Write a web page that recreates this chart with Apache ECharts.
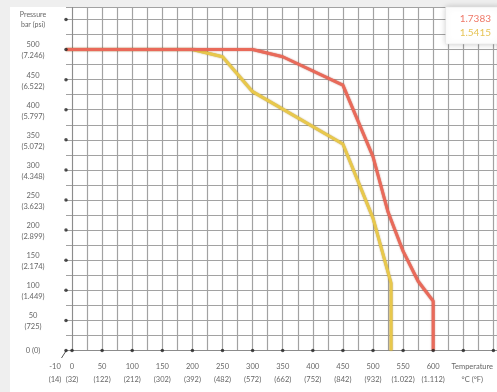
<!DOCTYPE html>
<html>
<head>
<meta charset="utf-8">
<script src="https://cdn.jsdelivr.net/npm/echarts@6/dist/echarts.min.js"></script>
<style>
  html, body { margin: 0; padding: 0; background: #efefef; }
  #panel { position: absolute; left: 10px; top: 7px; width: 487px; height: 385px; background: #ffffff; }
  #chart { position: absolute; left: 0; top: 0; width: 497px; height: 392px; }
</style>
</head>
<body>
<div id="panel"></div>
<div id="chart"></div>
<script>
// ---- data ----
const seriesNames = ['1.7383', '1.5415'];
const redTemp = [-10, 300, 350, 450, 500, 525, 550, 575, 600, 600];
const redPres = [500, 500, 488, 441, 322, 230, 165, 115, 82, 0];
const yellowTemp = [-10, 200, 250, 300, 450, 500, 530, 530];
const yellowPres = [500, 500, 488, 430, 343, 220, 112, 0];

const xTickC = [-10, 0, 50, 100, 150, 200, 250, 300, 350, 400, 450, 500, 550, 600];
const xTickF = ['14', '32', '122', '212', '302', '392', '482', '572', '662', '752', '842', '932', '1.022', '1.112'];
const xTitle = ['Temperature', '°C (°F)'];
const yTickBar = [0, 50, 100, 150, 200, 250, 300, 350, 400, 450, 500];
const yTickPsi = ['0', '725', '1.449', '2.174', '2.899', '3.623', '4.348', '5.072', '5.797', '6.522', '7.246'];
const yTitle = ['Pressure', 'bar (psi)'];
const xDots = [0, 50, 100, 150, 200, 250, 300, 350, 400, 450, 500, 550, 600, 650, 700];
const yDots = [0, 50, 100, 150, 200, 250, 300, 350, 400, 450, 500, 550];

const RED = '#e96a5a';
const YELLOW = '#e8c84c';
const LABEL = '#666666';
const FONT = 'Lato';
const GRIDC = '#a2a2a2';

function zip(a, b) { return a.map((v, i) => [v, b[i]]); }

// layout: x from -10 at px 66 to 706 at px 497
const X_MIN = -10, X_MAX = 706, LEFT = 66, RIGHT_EDGE = 497;
const pxPerUnit = (RIGHT_EDGE - LEFT) / (X_MAX - X_MIN);
const left1 = LEFT + (0 - X_MIN) * pxPerUnit;

const chart = echarts.init(document.getElementById('chart'), null, { renderer: 'canvas' });

const richX = {
  a: { color: LABEL, fontSize: 7.5, lineHeight: 13, fontFamily: FONT },
  m: { color: LABEL, fontSize: 7.5, lineHeight: 13, fontFamily: FONT, padding: [0, 22, 0, 0] },
  t: { color: LABEL, fontSize: 7.5, lineHeight: 13, fontFamily: FONT, padding: [0, 0, 0, 18] }
};

const option = {
  backgroundColor: 'transparent',
  animation: false,
  textStyle: { fontFamily: FONT },
  grid: [
    { left: LEFT, right: 0, top: 7.4, bottom: 41.5, containLabel: false },
    { left: left1, right: 0, top: 7.4, bottom: 41.5, containLabel: false }
  ],
  legend: {
    orient: 'vertical',
    right: -4,
    top: 7,
    padding: [7, 10, 6, 8],
    itemGap: 4,
    itemWidth: 0,
    itemHeight: 0,
    backgroundColor: '#ffffff',
    shadowBlur: 6,
    shadowColor: 'rgba(0,0,0,0.22)',
    borderColor: '#e2e2e2',
    borderWidth: 0.5,
    selectedMode: false,
    data: [
      { name: seriesNames[0], textStyle: { color: '#ef7868', fontSize: 10, fontFamily: FONT } },
      { name: seriesNames[1], textStyle: { color: '#e6c456', fontSize: 10, fontFamily: FONT } }
    ]
  },
  xAxis: [
    {
      gridIndex: 0,
      type: 'value',
      min: X_MIN,
      max: X_MAX,
      axisLine: { show: true, lineStyle: { color: '#8c8c8c', width: 1 } },
      axisTick: { show: false },
      splitLine: { show: false },
      axisLabel: {
        interval: 0,
        margin: 10,
        showMinLabel: true,
        showMaxLabel: false,
        color: LABEL,
        fontSize: 7.5,
        formatter: function (v) {
          if (v !== X_MIN) return '';
          const i = xTickC.indexOf(v);
          return '{m|' + xTickC[i] + '}\n{m|(' + xTickF[i] + ')}';
        },
        rich: richX
      }
    },
    {
      gridIndex: 1,
      type: 'value',
      min: 0,
      max: X_MAX,
      interval: 25,
      axisLine: { show: false },
      axisTick: { show: false },
      splitLine: { show: true, lineStyle: { color: GRIDC, width: 1.2 } },
      axisLabel: {
        interval: 0,
        margin: 10,
        showMinLabel: true,
        showMaxLabel: false,
        color: LABEL,
        fontSize: 7.5,
        formatter: function (v) {
          if (v === 650) return '{t|' + xTitle[0] + '}\n{t|' + xTitle[1] + '}';
          const i = xTickC.indexOf(v);
          if (i < 0) return '';
          return '{a|' + xTickC[i] + '}\n{a|(' + xTickF[i] + ')}';
        },
        rich: richX
      }
    }
  ],
  yAxis: [
    {
      gridIndex: 0,
      type: 'value',
      min: 0,
      max: 570,
      interval: 25,
      axisLine: { show: true, lineStyle: { color: '#8c8c8c', width: 1 } },
      axisTick: { show: false },
      splitLine: { show: true, lineStyle: { color: GRIDC, width: 1.2 } },
      axisLabel: {
        interval: 0,
        margin: 33,
        align: 'center',
        showMaxLabel: false,
        color: LABEL,
        fontSize: 7.5,
        formatter: function (v) {
          if (v === 550) return '{p|' + yTitle[0] + '}\n{p|' + yTitle[1] + '}';
          const i = yTickBar.indexOf(v);
          if (i < 0) return '';
          if (v === 0) return '{a|' + yTickBar[i] + ' (' + yTickPsi[i] + ')}';
          return '{b|' + yTickBar[i] + '}\n{c|(' + yTickPsi[i] + ')}';
        },
        rich: {
          a: { color: LABEL, fontSize: 7.5, lineHeight: 10, fontFamily: FONT },
          b: { color: LABEL, fontSize: 7.5, lineHeight: 13, fontFamily: FONT, padding: [4, 0, 0, 0] },
          c: { color: LABEL, fontSize: 7.5, lineHeight: 13, fontFamily: FONT },
          p: { color: LABEL, fontSize: 7, lineHeight: 10, fontFamily: FONT }
        }
      }
    },
    {
      gridIndex: 1,
      type: 'value',
      min: 0,
      max: 570,
      show: false,
      splitLine: { show: false }
    }
  ],
  graphic: [
    {
      type: 'line',
      shape: { x1: 66, y1: 351, x2: 61.5, y2: 358 },
      style: { stroke: '#555', lineWidth: 1 },
      silent: true
    }
  ],
  series: [
    {
      name: seriesNames[1],
      type: 'line',
      xAxisIndex: 0, yAxisIndex: 0,
      data: zip(yellowTemp, yellowPres),
      symbol: 'none',
      z: 3,
      lineStyle: { color: YELLOW, width: 3, shadowColor: 'rgba(150,110,0,0.7)', shadowBlur: 1.5 },
      itemStyle: { color: YELLOW }
    },
    {
      name: seriesNames[0],
      type: 'line',
      xAxisIndex: 0, yAxisIndex: 0,
      data: zip(redTemp, redPres),
      symbol: 'none',
      z: 4,
      lineStyle: { color: RED, width: 3, shadowColor: 'rgba(160,40,20,0.7)', shadowBlur: 1.5 },
      itemStyle: { color: RED }
    },
    {
      name: 'xdots',
      type: 'scatter',
      xAxisIndex: 0, yAxisIndex: 0,
      data: xDots.map(v => [v, 0]),
      symbol: 'circle',
      symbolSize: 3.5,
      silent: true,
      z: 5,
      clip: false,
      itemStyle: { color: '#222' }
    },
    {
      name: 'ydots',
      type: 'scatter',
      xAxisIndex: 0, yAxisIndex: 0,
      data: yDots.map(v => [-10, v]),
      symbol: 'circle',
      symbolSize: 3.5,
      silent: true,
      z: 5,
      clip: false,
      itemStyle: { color: '#222' }
    }
  ]
};

chart.setOption(option);
</script>
</body>
</html>
